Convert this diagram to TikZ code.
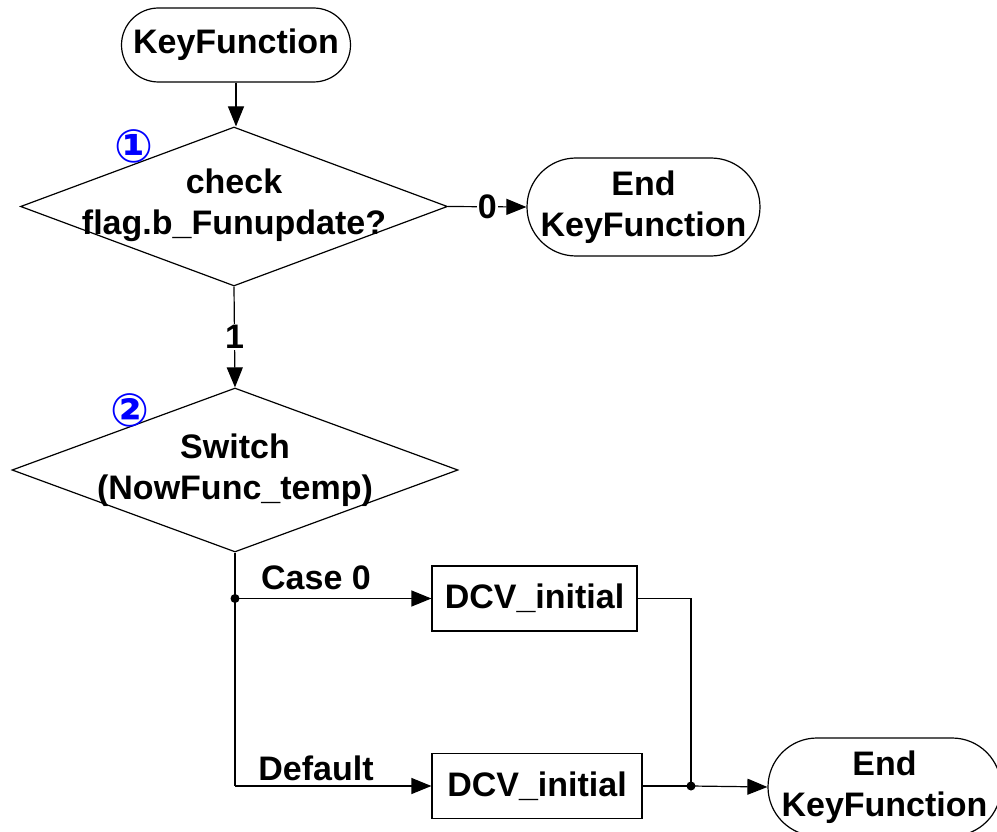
\documentclass[tikz,border=0pt]{standalone}
\usepackage{fontspec}
\setmainfont{Liberation Sans}
\newfontfamily\circfont{DejaVu Sans}
\usetikzlibrary{shapes.geometric, arrows.meta}
\begin{document}
\begin{tikzpicture}[x=1pt, y=-1pt,
  every node/.style={font=\bfseries\fontsize{34}{41}\selectfont},
  line/.style={line width=1.2pt, draw=black},
  arr/.style={line, -{Triangle[length=20pt, width=16pt]}},
  term/.style={draw, line width=1.2pt, rectangle, inner sep=0pt, align=center},
  dec/.style={draw, line width=1.2pt, diamond, inner sep=0pt},
  proc/.style={draw, line width=1.2pt, rectangle, inner sep=0pt, align=center},
  dot/.style={circle, fill=black, inner sep=0pt, minimum size=9pt},
  num/.style={text=blue, font=\circfont\bfseries\fontsize{46}{46}\selectfont, inner sep=0pt},
  cut/.style={fill=white, inner sep=1pt}
]
\useasboundingbox (0,0) rectangle (997,832);

\node[term, rounded corners=37pt, minimum width=229pt, minimum height=74pt] (start) at (236,45) {KeyFunction};

\node[dec, minimum width=427pt, minimum height=159pt] (d1) at (234,206.5) {};
\node[align=center] (d1t) at (234,205) {check\\flag.b\_Funupdate?};
\node[num] (n1) at (134,146) {①};

\node[term, rounded corners=49pt, minimum width=233pt, minimum height=98pt] (e1) at (643.5,207) {End\\KeyFunction};

\node[dec, minimum width=446pt, minimum height=164pt] (d2) at (235,470) {};
\node[align=center] (d2t) at (235,470) {Switch\\(NowFunc\_temp)};
\node[num] (n2) at (130,410) {②};

\node[proc, minimum width=205pt, minimum height=65pt] (b1) at (534.5,598.5) {DCV\_initial};
\node[proc, minimum width=210pt, minimum height=65pt] (b2) at (537,786) {DCV\_initial};

\node[term, rounded corners=49pt, minimum width=233pt, minimum height=98pt] (e2) at (884.5,787) {End\\KeyFunction};

\coordinate (j1) at (235,598.5);
\coordinate (j2) at (235,786);
\coordinate (m) at (691,786);

\draw[arr] (start.south) -- (start.south |- d1.north);
\draw[arr] (d1.east) -- node[cut] (l0) {0} (e1.west);
\draw[arr] (d1.south) -- node[cut] (l1) {1} (d2.north);

\draw[line] (d2.south) -- (j2);
\draw[arr] (j1) -- (b1.west);
\draw[arr] (j2) -- (b2.west);
\node[dot] (dj1) at (j1) {};
\node (lc) at (316,578) {Case 0};
\node (ld) at (316,768) {Default};

\draw[line] (b1.east) -| (m);
\draw[line] (b2.east) -- (m);
\draw[arr] (m) -- (e2.west);
\node[dot] (dm) at (m) {};
\end{tikzpicture}
\end{document}
